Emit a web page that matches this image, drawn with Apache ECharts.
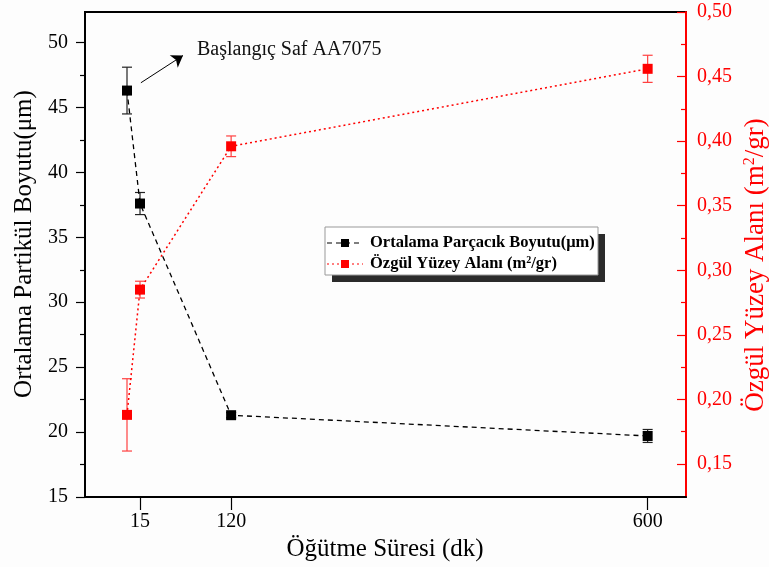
<!DOCTYPE html>
<html>
<head>
<meta charset="utf-8">
<script src="https://cdn.jsdelivr.net/npm/echarts@6/dist/echarts.min.js"></script>
<style>html,body{margin:0;padding:0;background:#fdfdfd}#c{width:769px;height:567px}</style>
</head>
<body>
<div id="c"></div>
<script>
// ---- data ----
const times = [0, 15, 120, 600];
const sizeMean = [46.3, 37.6, 21.3, 19.7];
const sizeErr = [1.8, 0.85, 0.2, 0.5];
const areaMean = [0.188, 0.285, 0.396, 0.456];
const areaErr = [0.028, 0.0065, 0.008, 0.0105];
const xTicks = [15, 120, 600];
const leftTicks = [15, 20, 25, 30, 35, 40, 45, 50];
const leftMinor = [17.5, 22.5, 27.5, 32.5, 37.5, 42.5, 47.5];
const rightTicks = [0.15, 0.20, 0.25, 0.30, 0.35, 0.40, 0.45, 0.50];
const rightMinor = [0.175, 0.225, 0.275, 0.325, 0.375, 0.425, 0.475];
const arrowFrom = [16, 46.9];
const arrowTo = [64.5, 49.0];

const FONT = '"Liberation Serif", "Times New Roman", serif';
const chart = echarts.init(document.getElementById('c'), null, {renderer: 'canvas'});

function errRender(color) {
  return function (params, api) {
    const x = api.value(0), lo = api.value(1), hi = api.value(2);
    const pt = api.coord([x, hi]), pb = api.coord([x, lo]);
    const w = 5;
    const st = {stroke: color, lineWidth: 1.2};
    return {type: 'group', children: [
      {type: 'line', shape: {x1: pt[0], y1: pt[1], x2: pb[0], y2: pb[1]}, style: st},
      {type: 'line', shape: {x1: pt[0] - w, y1: pt[1], x2: pt[0] + w, y2: pt[1]}, style: st},
      {type: 'line', shape: {x1: pb[0] - w, y1: pb[1], x2: pb[0] + w, y2: pb[1]}, style: st}
    ]};
  };
}

const labelFont = {fontFamily: FONT, fontSize: 20};

const option = {
  animation: false,
  backgroundColor: '#fdfdfd',
  grid: {left: 85, right: 83, top: 12, bottom: 70, show: true, borderColor: '#000', borderWidth: 2, backgroundColor: 'transparent', outerBoundsMode: 'none'},
  xAxis: {
    type: 'value', min: -48.4, max: 644.2,
    axisLine: {show: true, onZero: false, lineStyle: {color: '#000', width: 2}},
    axisTick: {show: true, customValues: xTicks, length: 13, lineStyle: {color: '#000', width: 1.2}},
    axisLabel: {customValues: xTicks, color: '#000', margin: 15, ...labelFont},
    splitLine: {show: false}
  },
  yAxis: [
    {
      type: 'value', position: 'left', min: 15, max: 52.35,
      axisLine: {show: true, onZero: false, lineStyle: {color: '#000', width: 2}},
      axisTick: {show: true, customValues: leftTicks, length: 9, lineStyle: {color: '#000', width: 1.2}},
      axisLabel: {customValues: leftTicks, color: '#000', margin: 17, ...labelFont},
      splitLine: {show: false}
    },
    {
      type: 'value', position: 'right', min: 0.1244, max: 0.50,
      axisLine: {show: true, onZero: false, lineStyle: {color: '#ff0000', width: 2}},
      axisTick: {show: true, inside: true, customValues: rightTicks, length: 9, lineStyle: {color: '#ff0000', width: 1.2}},
      axisLabel: {customValues: rightTicks, color: '#ff0000', margin: 11, ...labelFont,
        formatter: v => v.toFixed(2).replace('.', ',')},
      splitLine: {show: false}
    },
    {
      type: 'value', position: 'left', min: 15, max: 52.35,
      axisLine: {show: false, onZero: false}, axisLabel: {show: false}, splitLine: {show: false},
      axisTick: {show: true, customValues: leftMinor, length: 5, lineStyle: {color: '#000', width: 1.2}}
    },
    {
      type: 'value', position: 'right', min: 0.1244, max: 0.50,
      axisLine: {show: false, onZero: false}, axisLabel: {show: false}, splitLine: {show: false},
      axisTick: {show: true, inside: true, customValues: rightMinor, length: 5, lineStyle: {color: '#ff0000', width: 1.2}}
    }
  ],
  series: [
    {
      type: 'custom', name: 'sizeErr', yAxisIndex: 0, z: 1, silent: true,
      renderItem: errRender('#222'),
      data: times.map((t, i) => [t, sizeMean[i] - sizeErr[i], sizeMean[i] + sizeErr[i]])
    },
    {
      type: 'custom', name: 'areaErr', yAxisIndex: 1, z: 1, silent: true,
      renderItem: errRender('#ff4040'),
      data: times.map((t, i) => [t, areaMean[i] - areaErr[i], areaMean[i] + areaErr[i]])
    },
    {
      type: 'line', name: 'Ortalama Parçacık Boyutu(μm)', yAxisIndex: 0, z: 3,
      data: times.map((t, i) => [t, sizeMean[i]]),
      symbol: 'rect', symbolSize: 10,
      itemStyle: {color: '#000'},
      lineStyle: {color: '#000', width: 1.3, type: [5, 4]},
      markLine: {
        silent: true, symbol: ['none', 'arrow'], symbolSize: 11,
        label: {show: false},
        itemStyle: {color: '#000'},
        lineStyle: {color: '#000', width: 1, type: 'solid'},
        data: [[{coord: arrowFrom}, {coord: arrowTo}]]
      }
    },
    {
      type: 'line', name: 'Özgül Yüzey Alanı (m2/gr)', yAxisIndex: 1, z: 3,
      data: times.map((t, i) => [t, areaMean[i]]),
      symbol: 'rect', symbolSize: 10,
      itemStyle: {color: '#ff0000'},
      lineStyle: {color: '#ff0000', width: 1.5, type: [2, 3]}
    }
  ],
  graphic: [
    {type: 'text', left: 197, top: 40, style: {text: 'Başlangıç Saf AA7075', font: '20px ' + FONT, fill: '#111'}},
    // axis titles
    {type: 'text', x: 24, y: 244, rotation: Math.PI / 2,
      style: {text: 'Ortalama Partikül Boyutu(μm)', font: '25px ' + FONT, fill: '#000', align: 'center', verticalAlign: 'middle'}},
    {type: 'text', x: 756, y: 265, rotation: Math.PI / 2,
      style: {text: 'Özgül Yüzey Alanı (m{s|2}/gr)', font: '27px ' + FONT, fill: '#ff0000', align: 'center', verticalAlign: 'middle',
        rich: {s: {fontSize: 16, fontFamily: FONT, fill: '#ff0000', verticalAlign: 'top', padding: [0, 0, 13, 0]}}}},
    {type: 'text', x: 385, y: 549,
      style: {text: 'Öğütme Süresi (dk)', font: '25px ' + FONT, fill: '#000', align: 'center', verticalAlign: 'middle'}},
    // legend
    {type: 'rect', shape: {x: 332, y: 234, width: 273, height: 48}, style: {fill: '#2b2b2b'}},
    {type: 'rect', shape: {x: 325, y: 227, width: 273, height: 48}, style: {fill: '#fff', stroke: '#999', lineWidth: 1}},
    {type: 'line', shape: {x1: 327, y1: 243, x2: 363, y2: 243}, style: {stroke: '#000', lineWidth: 1.2, lineDash: [5, 4]}},
    {type: 'rect', shape: {x: 341, y: 239, width: 8, height: 8}, style: {fill: '#000'}},
    {type: 'text', x: 370, y: 243, style: {text: 'Ortalama Parçacık Boyutu(μm)', font: 'bold 16.5px ' + FONT, fill: '#000', verticalAlign: 'middle'}},
    {type: 'line', shape: {x1: 327, y1: 264, x2: 363, y2: 264}, style: {stroke: '#ff0000', lineWidth: 1.2, lineDash: [2, 3]}},
    {type: 'rect', shape: {x: 341, y: 260, width: 8, height: 8}, style: {fill: '#ff0000'}},
    {type: 'text', x: 370, y: 264, style: {text: 'Özgül Yüzey Alanı (m{s|2}/gr)', font: 'bold 16.5px ' + FONT, fill: '#000', verticalAlign: 'middle',
      rich: {s: {fontSize: 10, fontWeight: 'bold', fontFamily: FONT, verticalAlign: 'top', padding: [0, 0, 8, 0]}}}}
  ]
};
chart.setOption(option);
</script>
</body>
</html>
